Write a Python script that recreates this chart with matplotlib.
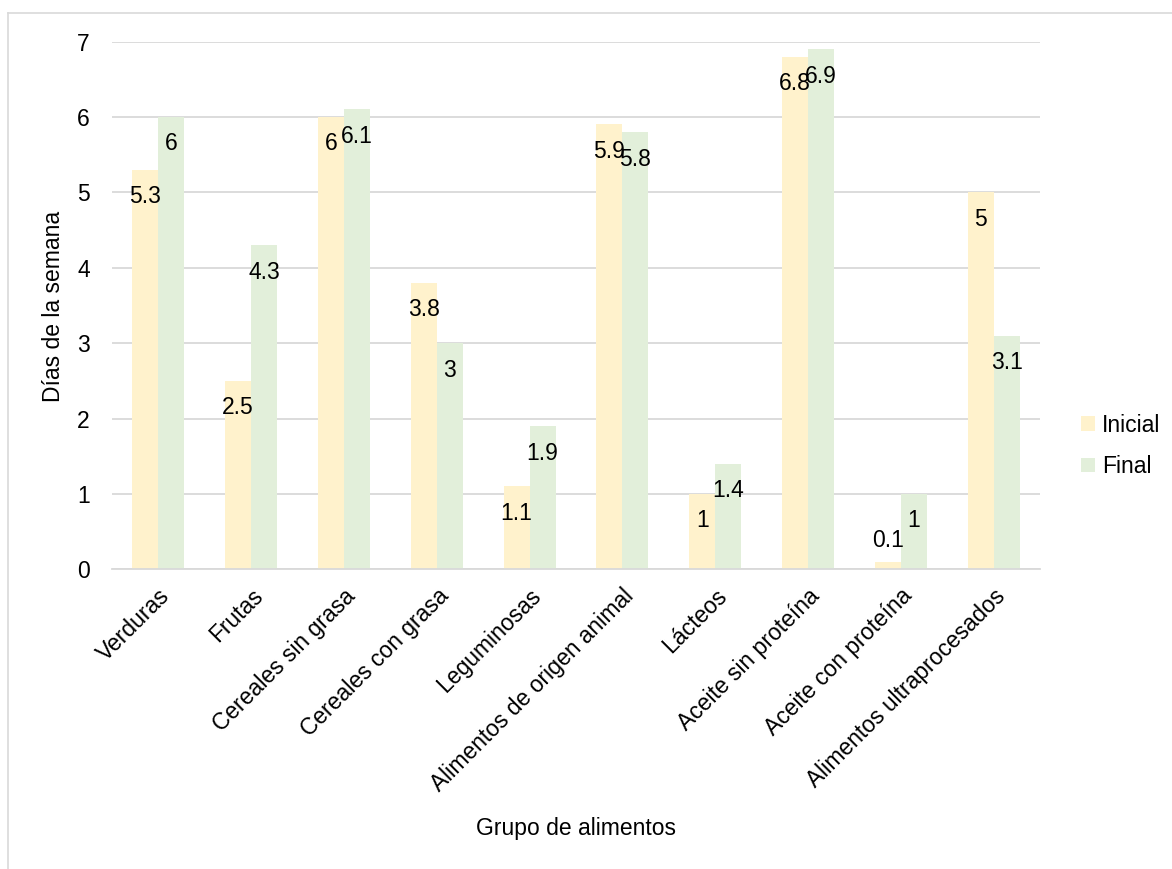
import matplotlib
matplotlib.use("Agg")
import matplotlib.pyplot as plt
import numpy as np
from matplotlib.lines import Line2D

plt.rcParams['font.family'] = ['Liberation Sans', 'DejaVu Sans']

categories = ["Verduras", "Frutas", "Cereales sin grasa", "Cereales con grasa",
              "Leguminosas", "Alimentos de origen animal", "Lácteos",
              "Aceite sin proteína", "Aceite con proteína", "Alimentos ultraprocesados"]
inicial = [5.3, 2.5, 6, 3.8, 1.1, 5.9, 1, 6.8, 0.1, 5]
final = [6, 4.3, 6.1, 3, 1.9, 5.8, 1.4, 6.9, 1, 3.1]
series_names = ["Inicial", "Final"]
colors = ["#FFF2CC", "#E2EFDA"]

FS = 16.5

W, H = 1172, 869
fig = plt.figure(figsize=(W / 100, H / 100), dpi=100)
ax = fig.add_axes([112 / W, 1 - 569.3 / H, (1040 - 112) / W, (569.3 - 41.5) / H])

x = np.arange(len(categories))
bw = 0.28
handles = []
for i, (vals, name, col) in enumerate(zip([inicial, final], series_names, colors)):
    pos = x + (i - 0.5) * bw
    bars = ax.bar(pos, vals, width=bw, color=col, label=name, zorder=2)
    handles.append(bars)
    for p, v in zip(pos, vals):
        txt = f"{v:g}"
        if v < 0.5:
            ax.annotate(txt, (p, v), xytext=(0, 15), textcoords="offset points",
                        ha="center", va="center", fontsize=FS, color="black", zorder=3)
        else:
            ax.annotate(txt, (p, v), xytext=(0, -19.5), textcoords="offset points",
                        ha="center", va="center", fontsize=FS, color="black", zorder=3)

ax.set_xlim(-0.5, len(categories) - 0.5)
ax.set_ylim(0, 7)
ax.set_yticks(range(0, 8))
ax.yaxis.grid(True, color="#D9D9D9", linewidth=1.3, zorder=0)
ax.set_axisbelow(True)
for s in ["top", "right", "left"]:
    ax.spines[s].set_visible(False)
ax.spines["bottom"].set_color("#D9D9D9")
ax.spines["bottom"].set_linewidth(1.3)
ax.tick_params(axis="y", length=0, pad=16, labelsize=FS)
ax.tick_params(axis="x", length=0, pad=11, labelsize=FS)
ax.set_xticks(x)
ax.set_xticklabels(categories, rotation=45, ha="right", rotation_mode="anchor")

fig.text(576 / W, 1 - 829 / H, "Grupo de alimentos", ha="center", va="center", fontsize=FS)
fig.text(54 / W, 1 - 306 / H, "Días de la semana", ha="center", va="center",
         rotation=90, fontsize=FS)

leg = fig.legend(handles=handles, labels=series_names, loc="center left",
                 bbox_to_anchor=(1081 / W, 1 - 446 / H), frameon=False,
                 fontsize=FS, handlelength=0.6, handleheight=0.6,
                 handletextpad=0.3, labelspacing=0.8, borderpad=0, borderaxespad=0)

# chart border (top and left visible)
fig.add_artist(Line2D([8 / W, 8 / W], [0, 1 - 12.5 / H], transform=fig.transFigure,
                      color="#D9D9D9", linewidth=1.2))
fig.add_artist(Line2D([8 / W, 1], [1 - 12.5 / H, 1 - 12.5 / H], transform=fig.transFigure,
                      color="#D9D9D9", linewidth=1.2))

fig.savefig("out.png", dpi=100, facecolor="white")
